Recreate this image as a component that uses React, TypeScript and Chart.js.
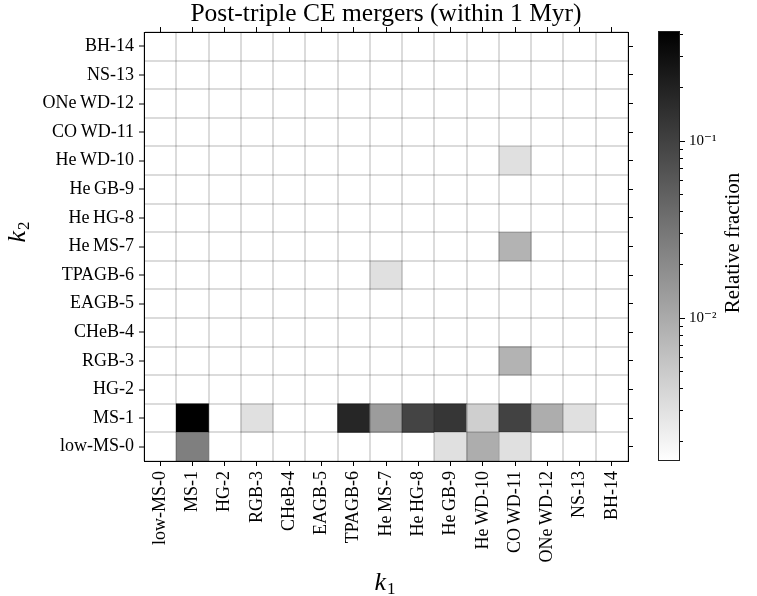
import { useEffect, useRef } from "react";
import { Chart, registerables } from "chart.js";

Chart.register(...registerables);

const WIDTH = 757;
const HEIGHT = 596;

// BSE stellar types, used for both k1 (columns) and k2 (rows)
const STELLAR_TYPES = [
  "low-MS-0", "MS-1", "HG-2", "RGB-3", "CHeB-4", "EAGB-5", "TPAGB-6",
  "He\u2009MS-7", "He\u2009HG-8", "He\u2009GB-9", "He\u2009WD-10", "CO\u2009WD-11", "ONe\u2009WD-12",
  "NS-13", "BH-14",
];

// Non-empty cells: column (k1), row (k2) and relative fraction of mergers
const CELL_K1 = [1, 3, 6, 7, 8, 9, 10, 11, 12, 13, 1, 9, 10, 11, 11, 11, 11, 7];
const CELL_K2 = [1, 1, 1, 1, 1, 1, 1, 1, 1, 1, 0, 0, 0, 0, 3, 7, 10, 6];
const CELL_FRACTION = [
  0.418, 0.0031, 0.182, 0.0136, 0.0938, 0.128, 0.0045, 0.0982, 0.0094, 0.0031,
  0.0258, 0.0031, 0.0094, 0.0031,
  0.0082, 0.0082, 0.0031, 0.0031,
];

// Log colour scale limits
const FRACTION_MIN = 0.00156;
const FRACTION_MAX = 0.418;

// Colour bar ticks
const COLORBAR_MAJOR = [0.01, 0.1];
const COLORBAR_MAJOR_LABELS = ["10\u207B\u00B2", "10\u207B\u00B9"];
const COLORBAR_MINOR = [
  0.002, 0.003, 0.004, 0.005, 0.006, 0.007, 0.008, 0.009,
  0.02, 0.03, 0.04, 0.05, 0.06, 0.07, 0.08, 0.09,
  0.2, 0.3, 0.4,
];

const TITLE = "Post-triple CE mergers (within 1 Myr)";
const COLORBAR_TITLE = "Relative fraction";

const FONT = '"Liberation Serif", "DejaVu Serif", serif';
const GRID_COLOR = "rgba(0,0,0,0.14)";

// gray_r colour map on a log norm
function fractionColor(v: number): string {
  const lo = Math.log10(FRACTION_MIN);
  const hi = Math.log10(FRACTION_MAX);
  const t = Math.min(1, Math.max(0, (Math.log10(v) - lo) / (hi - lo)));
  const g = Math.round(255 * (1 - t));
  return `rgb(${g},${g},${g})`;
}

function drawSubscripted(ctx: CanvasRenderingContext2D, base: string, sub: string, x: number, y: number) {
  const baseFont = `italic 26px ${FONT}`;
  const subFont = `17px ${FONT}`;
  ctx.font = baseFont;
  const wb = ctx.measureText(base).width;
  ctx.font = subFont;
  const ws = ctx.measureText(sub).width;
  const x0 = x - (wb + ws + 1) / 2;
  ctx.textAlign = "left";
  ctx.textBaseline = "alphabetic";
  ctx.fillStyle = "#000";
  ctx.font = baseFont;
  ctx.fillText(base, x0, y);
  ctx.font = subFont;
  ctx.fillText(sub, x0 + wb + 1, y + 4);
}

const axisLabelsPlugin = {
  id: "axisMathLabels",
  afterDraw(chart: any) {
    const ctx = chart.ctx as CanvasRenderingContext2D;
    const area = chart.chartArea;
    ctx.save();
    drawSubscripted(ctx, "k", "1", (area.left + area.right) / 2 - 1, 590);
    ctx.translate(25, 232);
    ctx.rotate(-Math.PI / 2);
    drawSubscripted(ctx, "k", "2", 0, 0);
    ctx.restore();
  },
};

const colorbarLabelPlugin = {
  id: "colorbarLabel",
  afterDraw(chart: any) {
    const ctx = chart.ctx as CanvasRenderingContext2D;
    ctx.save();
    ctx.translate(733, 243);
    ctx.rotate(-Math.PI / 2);
    ctx.font = `21px ${FONT}`;
    ctx.fillStyle = "#000";
    ctx.textAlign = "center";
    ctx.textBaseline = "middle";
    ctx.fillText(COLORBAR_TITLE, 0, 0);
    ctx.restore();
  },
};

const rowTicks = (step: number) => {
  const out: { value: number }[] = [];
  for (let v = -0.5; v <= STELLAR_TYPES.length - 0.5 + 1e-9; v += step) {
    out.push({ value: Math.round(v * 2) / 2 });
  }
  return out;
};

const isRowCenter = (v: number) => Number.isInteger(v);

export default function App() {
  const mainRef = useRef<HTMLCanvasElement>(null);
  const barRef = useRef<HTMLCanvasElement>(null);

  useEffect(() => {
    if (!mainRef.current || !barRef.current) return;

    const cells = CELL_FRACTION.map((v, i) => ({
      x: STELLAR_TYPES[CELL_K1[i]],
      y: [CELL_K2[i] - 0.5, CELL_K2[i] + 0.5],
      v,
    }));

    const tickFont = { family: FONT, size: 18 };

    const main = new Chart(mainRef.current, {
      type: "bar",
      data: {
        labels: STELLAR_TYPES,
        datasets: [
          {
            data: cells as any,
            xAxisID: "x",
            yAxisID: "y",
            backgroundColor: (c: any) => (c.raw ? fractionColor(c.raw.v) : "#fff"),
            borderWidth: 0,
            barPercentage: 1,
            categoryPercentage: 1,
          },
        ],
      },
      options: {
        responsive: false,
        animation: false,
        events: [],
        layout: { padding: 0 },
        plugins: {
          legend: { display: false },
          tooltip: { enabled: false },
          title: {
            display: true,
            fullSize: false,
            text: TITLE,
            color: "#000",
            font: { family: FONT, size: 25.5, weight: "normal", lineHeight: 1.08 },
            padding: { top: 0.5, bottom: 0 },
          },
        },
        scales: {
          x: {
            type: "category",
            axis: "x",
            position: "bottom",
            offset: true,
            grid: { offset: false, drawOnChartArea: false, tickLength: 5, tickColor: "#000", tickWidth: 1 },
            border: { color: "#000", width: 1, z: 2 },
            ticks: { autoSkip: false, maxRotation: 90, minRotation: 90, padding: 5, color: "#000", font: tickFont },
            afterFit: (s: any) => { s.height = 135; },
          },
          xTop: {
            type: "category",
            axis: "x",
            position: "top",
            offset: true,
            grid: { offset: false, drawOnChartArea: false, tickLength: 5, tickColor: "#000", tickWidth: 1 },
            border: { color: "#000", width: 1, z: 2 },
            ticks: { display: false },
            afterFit: (s: any) => { s.height = 4; },
          },
          xGrid: {
            type: "category",
            axis: "x",
            position: "top",
            offset: true,
            grid: { offset: true, drawOnChartArea: true, drawTicks: false, color: GRID_COLOR, lineWidth: 2, z: 1 },
            border: { display: false },
            ticks: { display: false },
            afterFit: (s: any) => { s.height = 0; },
          },
          y: {
            type: "linear",
            axis: "y",
            position: "left",
            min: -0.5,
            max: STELLAR_TYPES.length - 0.5,
            afterBuildTicks: (s: any) => { s.ticks = rowTicks(0.5); },
            grid: {
              z: 1,
              lineWidth: 2,
              tickWidth: 1,
              tickLength: 5,
              color: (c: any) => (c.tick && isRowCenter(c.tick.value) ? "rgba(0,0,0,0)" : GRID_COLOR),
              tickColor: (c: any) => (c.tick && isRowCenter(c.tick.value) ? "#000" : "rgba(0,0,0,0)"),
            },
            border: { color: "#000", width: 1, z: 2 },
            ticks: {
              autoSkip: false,
              padding: 5,
              color: "#000",
              font: tickFont,
              callback: (v: any) => (isRowCenter(Number(v)) ? STELLAR_TYPES[Number(v)] : ""),
            },
            afterFit: (s: any) => { s.width = 144; },
          },
          yRight: {
            type: "linear",
            axis: "y",
            position: "right",
            min: -0.5,
            max: STELLAR_TYPES.length - 0.5,
            afterBuildTicks: (s: any) => {
              s.ticks = STELLAR_TYPES.map((_, i) => ({ value: i }));
            },
            grid: { drawOnChartArea: false, tickLength: 5, tickColor: "#000", tickWidth: 1 },
            border: { color: "#000", width: 1, z: 2 },
            ticks: { display: false },
            afterFit: (s: any) => { s.width = WIDTH - 628; },
          },
        },
      } as any,
      plugins: [axisLabelsPlugin],
    });

    const majorSet = new Set(COLORBAR_MAJOR);

    const colorbar = new Chart(barRef.current, {
      type: "bar",
      data: {
        labels: [""],
        datasets: [
          {
            data: [[FRACTION_MIN, FRACTION_MAX]] as any,
            backgroundColor: (c: any) => {
              const chart = c.chart;
              const ys = chart.scales && chart.scales.y;
              if (!chart.chartArea || !ys) return "#888";
              const g = chart.ctx.createLinearGradient(
                0, ys.getPixelForValue(FRACTION_MIN), 0, ys.getPixelForValue(FRACTION_MAX),
              );
              g.addColorStop(0, fractionColor(FRACTION_MIN));
              g.addColorStop(1, fractionColor(FRACTION_MAX));
              return g;
            },
            borderColor: "#222",
            borderWidth: 1,
            borderSkipped: false,
            inflateAmount: 0,
            barPercentage: 1,
            categoryPercentage: 1,
          },
        ],
      },
      options: {
        responsive: false,
        animation: false,
        events: [],
        layout: { padding: { left: 658, top: 31, bottom: HEIGHT - 461, right: 0 } },
        plugins: { legend: { display: false }, tooltip: { enabled: false } },
        scales: {
          x: { display: false, offset: true },
          y: {
            type: "logarithmic",
            position: "right",
            min: FRACTION_MIN,
            max: FRACTION_MAX,
            afterBuildTicks: (s: any) => {
              s.ticks = [...COLORBAR_MINOR, ...COLORBAR_MAJOR]
                .sort((a, b) => a - b)
                .map((value) => ({ value, major: majorSet.has(value) }));
            },
            grid: {
              drawOnChartArea: false,
              tickLength: 5,
              tickWidth: 1,
              tickColor: "#000",
              tickBorderDash: (c: any) => (c.tick && majorSet.has(c.tick.value) ? [] : [3, 40]),
            },
            border: { display: false },
            ticks: {
              autoSkip: false,
              padding: 4,
              color: "#000",
              font: { family: FONT, size: 15 },
              callback: (v: any) => {
                const i = COLORBAR_MAJOR.indexOf(Number(v));
                return i >= 0 ? COLORBAR_MAJOR_LABELS[i] : "";
              },
            },
            afterFit: (s: any) => { s.width = WIDTH - 680; },
          },
        },
      } as any,
      plugins: [colorbarLabelPlugin],
    });

    return () => {
      main.destroy();
      colorbar.destroy();
    };
  }, []);

  const canvasStyle: any = { position: "absolute", left: 0, top: 0, width: WIDTH, height: HEIGHT };

  return (
    <div style={{ position: "fixed", left: 0, top: 0, width: WIDTH, height: HEIGHT, background: "#fff" }}>
      <canvas ref={mainRef} width={WIDTH} height={HEIGHT} style={canvasStyle} />
      <canvas ref={barRef} width={WIDTH} height={HEIGHT} style={canvasStyle} />
    </div>
  );
}
